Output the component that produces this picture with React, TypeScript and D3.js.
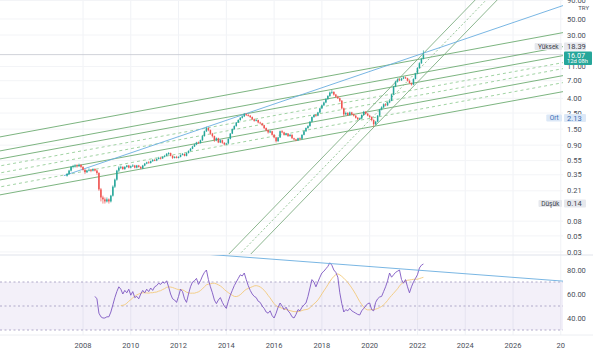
import React from "react";
import * as d3 from "d3";

const W = 593;
const H = 350;

// monthly bars, first bar = May 2007
const startYear = 2007;
const startMonth = 4;
const firstOpen = 0.34;

const closes = [
  0.36, 0.40, 0.45, 0.46, 0.47, 0.46, 0.48, 0.45, 0.41, 0.38, 0.40, 0.41,
  0.40, 0.42, 0.40, 0.37, 0.22, 0.17, 0.16, 0.15, 0.16, 0.15, 0.18, 0.24,
  0.30, 0.40, 0.44, 0.45, 0.42, 0.45, 0.47, 0.44, 0.46, 0.47, 0.44, 0.47,
  0.45, 0.43, 0.47, 0.50, 0.52, 0.51, 0.54, 0.56, 0.55, 0.58, 0.60, 0.59,
  0.62, 0.64, 0.68, 0.70, 0.64, 0.60, 0.62, 0.60, 0.62, 0.66, 0.68, 0.64,
  0.70, 0.75, 0.80, 0.86, 0.92, 0.98, 0.96, 1.05, 1.20, 1.40, 1.55, 1.45,
  1.30, 1.20, 1.05, 1.12, 0.98, 1.05, 0.97, 0.92, 0.95, 1.10, 1.30, 1.50,
  1.65, 1.85, 2.00, 2.15, 2.25, 2.40, 2.35, 2.30, 2.20, 2.05, 1.95, 2.00,
  1.85, 1.80, 1.70, 1.55, 1.45, 1.35, 1.40, 1.25, 1.15, 1.02, 1.15, 1.40,
  1.35, 1.25, 1.30, 1.20, 1.25, 1.12, 1.08, 1.05, 1.12, 1.10, 1.25, 1.40,
  1.55, 1.65, 1.90, 2.20, 2.35, 2.30, 2.55, 2.90, 3.20, 3.50, 3.90, 4.30,
  4.80, 4.90, 4.50, 4.20, 4.00, 3.70, 2.90, 2.40, 2.50, 2.35, 2.55, 2.40,
  2.30, 2.15, 2.05, 2.10, 2.35, 2.60, 2.45, 2.30, 2.20, 2.00, 1.75, 1.90,
  2.30, 2.80, 3.00, 3.30, 3.20, 3.50, 3.70, 4.50, 5.80, 6.80, 7.30, 7.10,
  7.50, 7.80, 7.60, 7.00, 6.50, 6.20, 7.40, 8.80, 10.50, 12.20, 14.00, 16.07,
];

const highs = [
  0.37, 0.41, 0.46, 0.48, 0.49, 0.49, 0.50, 0.49, 0.46, 0.42, 0.41, 0.43,
  0.42, 0.43, 0.43, 0.41, 0.38, 0.23, 0.18, 0.17, 0.17, 0.165, 0.185, 0.25,
  0.31, 0.41, 0.46, 0.47, 0.46, 0.46, 0.48, 0.48, 0.47, 0.49, 0.48, 0.48,
  0.48, 0.46, 0.48, 0.51, 0.53, 0.54, 0.55, 0.58, 0.58, 0.59, 0.62, 0.62,
  0.63, 0.66, 0.70, 0.72, 0.71, 0.65, 0.63, 0.64, 0.63, 0.67, 0.70, 0.69,
  0.71, 0.76, 0.82, 0.88, 0.94, 1.00, 1.01, 1.07, 1.23, 1.43, 1.62, 1.58,
  1.48, 1.33, 1.22, 1.15, 1.14, 1.08, 1.07, 0.99, 0.97, 1.12, 1.32, 1.53,
  1.69, 1.88, 2.05, 2.20, 2.32, 2.50, 2.48, 2.42, 2.34, 2.24, 2.10, 2.05,
  2.02, 1.90, 1.83, 1.72, 1.58, 1.48, 1.44, 1.42, 1.28, 1.17, 1.17, 1.43,
  1.45, 1.38, 1.33, 1.32, 1.28, 1.27, 1.14, 1.10, 1.14, 1.15, 1.27, 1.43,
  1.58, 1.70, 1.93, 2.24, 2.40, 2.42, 2.60, 2.95, 3.28, 3.60, 4.00, 4.42,
  4.95, 5.20, 5.00, 4.60, 4.35, 4.10, 3.78, 2.98, 2.62, 2.58, 2.62, 2.60,
  2.46, 2.34, 2.20, 2.16, 2.40, 2.68, 2.65, 2.50, 2.36, 2.25, 2.05, 1.95,
  2.35, 2.86, 3.10, 3.40, 3.42, 3.58, 3.82, 4.60, 5.95, 7.00, 7.55, 7.50,
  7.70, 8.05, 8.00, 7.70, 7.10, 6.60, 7.55, 9.00, 10.80, 12.60, 14.50, 18.39,
];

const lows = [
  0.33, 0.35, 0.39, 0.43, 0.44, 0.44, 0.45, 0.43, 0.40, 0.36, 0.37, 0.39,
  0.38, 0.39, 0.39, 0.35, 0.21, 0.15, 0.14, 0.14, 0.145, 0.14, 0.145, 0.175,
  0.23, 0.29, 0.38, 0.42, 0.41, 0.41, 0.44, 0.43, 0.43, 0.45, 0.43, 0.43,
  0.44, 0.42, 0.42, 0.46, 0.49, 0.50, 0.50, 0.53, 0.54, 0.54, 0.57, 0.57,
  0.58, 0.61, 0.63, 0.66, 0.63, 0.58, 0.59, 0.59, 0.59, 0.61, 0.65, 0.63,
  0.63, 0.69, 0.74, 0.79, 0.85, 0.90, 0.94, 0.95, 1.03, 1.18, 1.37, 1.40,
  1.26, 1.15, 1.00, 1.02, 0.96, 0.96, 0.94, 0.89, 0.90, 0.93, 1.08, 1.28,
  1.47, 1.62, 1.82, 1.96, 2.10, 2.20, 2.28, 2.24, 2.14, 2.00, 1.90, 1.92,
  1.80, 1.75, 1.65, 1.50, 1.40, 1.30, 1.32, 1.22, 1.12, 0.98, 1.00, 1.13,
  1.31, 1.22, 1.22, 1.17, 1.18, 1.10, 1.05, 1.02, 1.03, 1.07, 1.08, 1.23,
  1.37, 1.52, 1.62, 1.87, 2.15, 2.22, 2.26, 2.50, 2.85, 3.12, 3.42, 3.82,
  4.20, 4.60, 4.35, 4.05, 3.90, 3.55, 2.80, 2.25, 2.32, 2.28, 2.30, 2.34,
  2.24, 2.10, 2.00, 2.00, 2.06, 2.30, 2.38, 2.25, 2.14, 1.92, 1.62, 1.70,
  1.86, 2.25, 2.72, 2.92, 3.10, 3.12, 3.42, 3.65, 4.40, 5.70, 6.60, 6.90,
  6.95, 7.35, 7.40, 6.85, 6.35, 6.00, 6.10, 7.30, 8.60, 10.30, 12.00, 13.80,
];

const rsiStart = 14;
const rsiValues = [
  58, 56, 44, 41, 40, 40, 41, 41, 45, 51,
  57, 62, 66, 64, 60, 63, 61, 64, 59, 62, 57, 58,
  56, 60, 63, 61, 64, 62, 65, 63, 66, 67, 69, 68,
  70, 69, 71, 66, 60, 56, 55, 53, 58, 64, 62, 56,
  53, 60, 66, 70, 71, 73, 68, 71, 75, 78, 80, 72,
  66, 61, 55, 52, 55, 57, 53, 50, 48, 54, 59, 63,
  67, 70, 73, 76, 75, 77.5, 72, 67, 63, 60, 58, 57,
  54, 53, 50, 48, 45, 44, 46, 42, 40, 44, 49, 52.5,
  50, 47, 49, 46, 44, 41, 40, 43, 47, 46, 49, 51,
  52.5, 58, 65, 72, 70, 66, 70, 74, 77.5, 79, 81, 83,
  86, 84, 80, 78, 74, 61, 52, 45, 47, 46, 48, 46,
  45, 44, 43, 42.5, 46, 48, 50, 52, 52.5, 47, 46, 53,
  56, 57.5, 58, 62, 66, 71, 77.5, 74, 76, 78, 79, 80,
  72, 69, 72, 66, 61, 66, 70, 73, 76, 81.7, 84, 85,
];

const priceTicks = [90, 50, 30, 11, 7, 4, 2.5, 1.5, 0.9, 0.55, 0.35, 0.21, 0.08, 0.05, 0.03];
const yearTicks = [2008, 2010, 2012, 2014, 2016, 2018, 2020, 2022, 2024, 2026, 2028];
const rsiTicks = [80, 60, 40];
const rsiLevels = [70, 50, 30];
const maLength = 14;

const highStat = { name: "Yüksek", value: 18.39 };
const avgStat = { name: "Ort", value: 2.13 };
const lowStat = { name: "Düşük", value: 0.14 };
const lastPrice = 16.07;
const countdown = "12d 08h";
const currency = "TRY";

// trend lines: [year, price] anchors, extended both ways
const channelLines = [
  { a: [2004.5, 1.165], b: [2028, 31.97], dash: "" },
  { a: [2004.5, 0.746], b: [2028, 20.47], dash: "" },
  { a: [2004.5, 0.578], b: [2028, 15.37], dash: "" },
  { a: [2004.5, 0.463], b: [2028, 12.3], dash: "3,3" },
  { a: [2004.5, 0.37], b: [2028, 10.16], dash: "3,3" },
  { a: [2004.5, 0.296], b: [2028, 8.13], dash: "" },
  { a: [2004.5, 0.237], b: [2028, 6.5], dash: "3,3" },
  { a: [2004.5, 0.184], b: [2028, 4.88], dash: "" },
];
// ray starting at its first anchor
const blueRays = [{ a: [2007.2, 0.34], b: [2028, 74.8] }];
const steepLines = [
  { a: [2017.92, 0.56], b: [2021.98, 13.53], dash: "" },
  { a: [2018.38, 0.56], b: [2022.44, 13.53], dash: "2,2" },
  { a: [2018.84, 0.56], b: [2022.9, 13.53], dash: "" },
];
const rsiTrend = { a: [2013.6, 92.5], b: [2028.05, 70.8] };

const FONT = "Roboto, 'Noto Sans', 'DejaVu Sans', sans-serif";

function sma(vals: (number | null)[], len: number): (number | null)[] {
  return vals.map((_, i) => {
    if (i < len - 1) return null;
    const w = vals.slice(i - len + 1, i + 1);
    if (w.some((v) => v == null)) return null;
    return d3.mean(w as number[]) as number;
  });
}

export default function App() {
  const plotR = 563;
  const mainTop = 0;
  const mainBot = 254;
  const rsiTop = 255;
  const rsiBot = 335;

  const x = d3.scaleLinear().domain([2008, 2026]).range([83, 513]);
  const y = d3.scaleLog().domain([91.5, 0.0281]).range([mainTop, mainBot]);
  const yr = d3.scaleLinear().domain([80, 40]).range([270, 318]);

  const t = (i: number) => startYear + (startMonth + i) / 12;
  const bars = closes.map((c, i) => ({
    t: t(i),
    o: i === 0 ? firstOpen : closes[i - 1],
    c,
    h: highs[i],
    l: lows[i],
  }));

  const rsi: (number | null)[] = closes.map((_, i) =>
    i >= rsiStart && i - rsiStart < rsiValues.length ? rsiValues[i - rsiStart] : null
  );
  const rsiMA = sma(rsi, maLength);
  const rsiPts = rsi.map((v, i) => ({ t: t(i), v }));
  const maPts = rsiMA.map((v, i) => ({ t: t(i), v }));

  const lineGen = d3
    .line<{ t: number; v: number | null }>()
    .defined((d) => d.v != null)
    .x((d) => x(d.t))
    .y((d) => yr(d.v as number));

  const ext = (a: number[], b: number[], ys: (v: number) => number, ray = false) => {
    const x1 = x(a[0]);
    const y1 = ys(a[1]);
    const x2 = x(b[0]);
    const y2 = ys(b[1]);
    const m = (y2 - y1) / (x2 - x1);
    const X0 = ray ? x1 : -40;
    const X1 = 640;
    return { x1: X0, y1: y1 + m * (X0 - x1), x2: X1, y2: y1 + m * (X1 - x1) };
  };

  const green = "#26a69a";
  const red = "#ef5350";
  const bw = 1.5;

  const lastY = y(lastPrice);
  const boxTop = lastY - 3.2;
  const boxH = 13.5;
  const highY = Math.min(y(highStat.value), boxTop - 5);

  const labelColor = "#4a4f5a";

  const tag = (label: string, value: number, yy: number, bg: string, fg: string, key: string) => {
    const tw = label.length * 3.9 + 4;
    return (
      <g key={key}>
        <rect x={plotR - 1 - tw} y={yy - 3.5} width={tw} height={7} fill={bg} rx={1} />
        <text x={plotR - 1 - tw / 2} y={yy} dy="0.35em" textAnchor="middle" fontSize={6.5} fill={fg}>
          {label}
        </text>
        <rect x={plotR + 1} y={yy - 4} width={22} height={8} fill={bg} rx={1} />
        <text x={567} y={yy} dy="0.35em" fontSize={7.5} fill={fg}>
          {value.toFixed(2)}
        </text>
      </g>
    );
  };

  return (
    <svg
      width={W}
      height={H}
      style={{ position: "absolute", left: 0, top: 0, background: "#fff", fontFamily: FONT }}
    >
      <defs>
        <clipPath id="mainClip">
          <rect x={0} y={mainTop} width={plotR} height={mainBot - mainTop} />
        </clipPath>
        <clipPath id="rsiClip">
          <rect x={0} y={rsiTop} width={plotR} height={rsiBot - rsiTop} />
        </clipPath>
      </defs>

      {/* grid */}
      {yearTicks.map((yy) => (
        <line key={"vg" + yy} x1={x(yy)} x2={x(yy)} y1={0} y2={rsiBot} stroke="#f0f2f6" strokeWidth={1} />
      ))}
      {priceTicks.map((p) => (
        <line key={"hg" + p} x1={0} x2={plotR} y1={y(p)} y2={y(p)} stroke="#f3f4f7" strokeWidth={1} />
      ))}

      {/* pane separators */}
      <line x1={0} x2={W} y1={rsiTop} y2={rsiTop} stroke="#e0e3eb" strokeWidth={1} />
      <line x1={0} x2={W} y1={rsiBot} y2={rsiBot} stroke="#eceef2" strokeWidth={1} />

      {/* main pane */}
      <g clipPath="url(#mainClip)">
        <line x1={0} x2={plotR} y1={lastY} y2={lastY} stroke="#c3c6cf" strokeWidth={0.8} />
        {channelLines.map((ln, i) => {
          const s = ext(ln.a, ln.b, y);
          return (
            <line
              key={"ch" + i}
              {...s}
              stroke={ln.dash ? "#8cc98f" : "#5fa463"}
              strokeWidth={0.9}
              strokeDasharray={ln.dash || undefined}
              opacity={0.9}
            />
          );
        })}
        {steepLines.map((ln, i) => {
          const s = ext(ln.a, ln.b, y);
          return (
            <line
              key={"st" + i}
              {...s}
              stroke={ln.dash ? "#8cbf8e" : "#7fae82"}
              strokeWidth={0.9}
              strokeDasharray={ln.dash || undefined}
            />
          );
        })}
        {blueRays.map((ln, i) => {
          const s = ext(ln.a, ln.b, y, true);
          return <line key={"bl" + i} {...s} stroke="#6aaee0" strokeWidth={0.9} />;
        })}
        {bars.map((b, i) => {
          const up = b.c >= b.o;
          const col = up ? green : red;
          const cx = x(b.t);
          const top = y(Math.max(b.o, b.c));
          const bot = y(Math.min(b.o, b.c));
          return (
            <g key={"bar" + i}>
              <line x1={cx} x2={cx} y1={y(b.h)} y2={y(b.l)} stroke={col} strokeWidth={0.7} />
              <rect x={cx - bw / 2} y={top} width={bw} height={Math.max(0.8, bot - top)} fill={col} />
            </g>
          );
        })}
      </g>

      {/* RSI pane */}
      <g clipPath="url(#rsiClip)">
        <rect
          x={0}
          y={yr(70)}
          width={plotR}
          height={yr(30) - yr(70)}
          fill="rgba(126,87,194,0.09)"
        />
        {rsiLevels.map((lv) => (
          <line
            key={"lv" + lv}
            x1={0}
            x2={plotR}
            y1={yr(lv)}
            y2={yr(lv)}
            stroke="#a9a2c4"
            strokeWidth={0.9}
            strokeDasharray="2,2.5"
          />
        ))}
        <path d={lineGen(maPts) || ""} fill="none" stroke="#f3c97a" strokeWidth={0.9} />
        <path d={lineGen(rsiPts) || ""} fill="none" stroke="#7e57c2" strokeWidth={0.9} />
        {(() => {
          const s = ext(rsiTrend.a, rsiTrend.b, yr);
          return <line {...s} stroke="#6aaee0" strokeWidth={0.9} />;
        })()}
      </g>

      {/* right axis */}
      <g fontSize={7.5} fill={labelColor}>
        {priceTicks.map((p) => (
          <text key={"pt" + p} x={567} y={y(p)} dy="0.35em">
            {p.toFixed(2)}
          </text>
        ))}
        <text x={589} y={9.5} textAnchor="end" fontSize={6}>
          {currency}
        </text>
        {rsiTicks.map((v) => (
          <text key={"rt" + v} x={567} y={yr(v)} dy="0.35em">
            {v.toFixed(2)}
          </text>
        ))}
      </g>

      {tag(avgStat.name, avgStat.value, y(avgStat.value), "#dce8f7", "#3b6db3", "avg")}
      {tag(lowStat.name, lowStat.value, y(lowStat.value), "#e6e8ed", "#3c414b", "low")}
      {tag(highStat.name, highStat.value, highY, "#e6e8ed", "#3c414b", "high")}

      {/* last price box */}
      <rect x={plotR + 1} y={boxTop} width={28} height={boxH} fill={green} rx={1} />
      <text x={567} y={boxTop + 3.6} dy="0.35em" fontSize={7.2} fill="#fff">
        {lastPrice.toFixed(2)}
      </text>
      <text x={567} y={boxTop + 10} dy="0.35em" fontSize={5.8} fill="#fff">
        {countdown}
      </text>

      {/* time axis */}
      <g fontSize={7.5} fill={labelColor} textAnchor="middle">
        {yearTicks.map((yy) => (
          <text key={"yt" + yy} x={x(yy)} y={345} dy="0.35em">
            {yy === 2028 ? "20" : String(yy)}
          </text>
        ))}
      </g>
    </svg>
  );
}
